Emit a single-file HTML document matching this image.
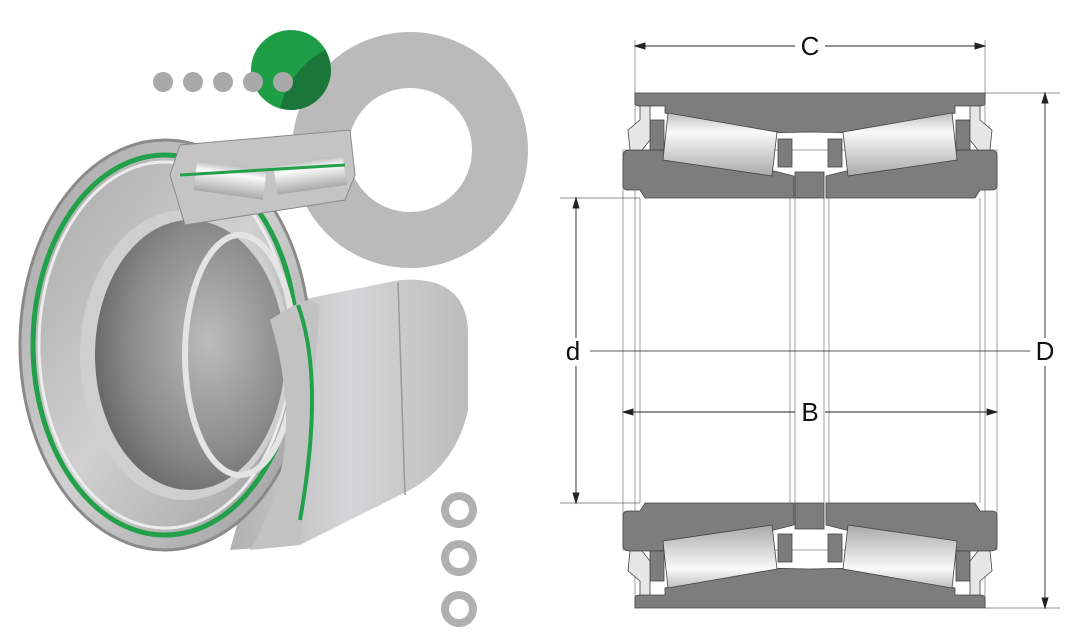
<!DOCTYPE html>
<html><head><meta charset="utf-8"><style>
html,body{margin:0;padding:0;background:#fff;width:1076px;height:636px;overflow:hidden}
svg{display:block}
text{font-family:"Liberation Sans",sans-serif}
</style></head><body>
<svg width="1076" height="636" viewBox="0 0 1076 636" xmlns="http://www.w3.org/2000/svg">
<defs>
<linearGradient id="roll" x1="0" y1="0" x2="0" y2="1">
<stop offset="0" stop-color="#bdbdbd"/><stop offset="0.3" stop-color="#fafafa"/><stop offset="1" stop-color="#a9a9a9"/></linearGradient>
<linearGradient id="body" x1="0" y1="0" x2="1" y2="0">
<stop offset="0" stop-color="#b0b0b0"/><stop offset="0.5" stop-color="#d6d6d8"/><stop offset="1" stop-color="#bcbcbc"/></linearGradient>
<radialGradient id="bore" cx="0.6" cy="0.45" r="0.7">
<stop offset="0" stop-color="#bcbcbc"/><stop offset="0.6" stop-color="#8a8a8a"/><stop offset="1" stop-color="#5a5a5a"/></radialGradient>
<linearGradient id="face" x1="0" y1="0" x2="1" y2="1">
<stop offset="0" stop-color="#a4a4a4"/><stop offset="0.5" stop-color="#d0d0d0"/><stop offset="1" stop-color="#9a9a9a"/></linearGradient>
</defs>

<circle cx="410" cy="150" r="90" fill="none" stroke="#bababa" stroke-width="56"/>
<circle cx="291" cy="70" r="40" fill="#1f9e48"/>
<path d="M331,70 A40,40 0 0 1 291,110 A40,40 0 0 1 280,108 A90,90 0 0 1 325,50 A40,40 0 0 1 331,70Z" fill="#1b6e38" opacity="0.85"/>
<g fill="#a9a9a9"><circle cx="163" cy="82" r="10"/><circle cx="193" cy="82" r="10"/><circle cx="223" cy="82" r="10"/><circle cx="253" cy="82" r="10"/><circle cx="283" cy="82" r="10"/></g>
<g fill="none" stroke="#b0b0b0" stroke-width="8"><circle cx="459" cy="510" r="14"/><circle cx="459" cy="558" r="14"/><circle cx="459" cy="609" r="14"/></g>

<!-- bearing body -->
<path d="M300,300 L400,280 Q465,275 468,330 L468,410 Q455,470 400,495 L300,545 L230,550 Z" fill="url(#body)"/>
<line x1="398" y1="282" x2="405" y2="495" stroke="#9a9a9a" stroke-width="1.5"/>
<path d="M180,145 L350,130 L355,180 L250,200 Z" fill="#bfbfbf"/>
<ellipse cx="165" cy="345" rx="145" ry="205" fill="url(#face)"/>
<ellipse cx="165" cy="345" rx="145" ry="205" fill="none" stroke="#8a8a8a" stroke-width="3"/>
<ellipse cx="165" cy="345" rx="132" ry="190" fill="none" stroke="#22a04a" stroke-width="5"/>
<ellipse cx="165" cy="345" rx="126" ry="183" fill="none" stroke="#ececec" stroke-width="3"/>
<ellipse cx="185" cy="355" rx="105" ry="145" fill="#cfcfcf"/>
<ellipse cx="190" cy="355" rx="95" ry="135" fill="url(#bore)"/>
<ellipse cx="240" cy="355" rx="55" ry="120" fill="none" stroke="#e4e4e4" stroke-width="6"/>
<path d="M270,320 Q300,300 310,300 L320,305 L300,545 L250,550 Q310,450 270,320Z" fill="#c2c2c2"/>
<path d="M298,305 Q325,380 300,520" fill="none" stroke="#22a04a" stroke-width="4"/>
<path d="M170,175 L180,145 L350,130 L355,175 L345,200 L185,225 Z" fill="#c4c4c4" stroke="#8a8a8a"/>
<rect x="195" y="165" width="70" height="30" fill="url(#roll)" transform="rotate(8 230 180)"/>
<rect x="275" y="160" width="70" height="30" fill="url(#roll)" transform="rotate(-8 310 175)"/>
<path d="M180,175 L345,165" stroke="#22a04a" stroke-width="3"/>

<!-- cross section -->
<g stroke="#333" stroke-width="1" fill="#fff">
<line x1="635" y1="40" x2="635" y2="608" stroke="#888" stroke-width="0.8"/>
<line x1="985" y1="40" x2="985" y2="608" stroke="#888" stroke-width="0.8"/>
<rect x="623" y="150" width="374" height="400" fill="none" stroke="#888" stroke-width="0.8"/>
<line x1="640" y1="198" x2="640" y2="503" stroke="#888" stroke-width="0.8"/>
<line x1="980" y1="198" x2="980" y2="503" stroke="#888" stroke-width="0.8"/>
<line x1="790" y1="198" x2="790" y2="503" stroke="#888" stroke-width="0.8"/>
<line x1="795" y1="198" x2="795" y2="503" stroke="#888" stroke-width="0.8"/>
<line x1="824" y1="198" x2="824" y2="503" stroke="#888" stroke-width="0.8"/>
<line x1="829" y1="198" x2="829" y2="503" stroke="#888" stroke-width="0.8"/>
</g>
<g id="half" fill="#7d7d7d" stroke="#444" stroke-width="0.8">
<path d="M635,93 L985,93 L985,103 Q985,106 980,106 L955,106 L955,113 L860,133 L810,132 L760,133 L665,113 L665,106 L640,106 Q635,106 635,103 Z"/>
<path d="M623,156 Q623,150 630,150 L660,150 L770,170 L794,176 L794,198 L645,198 L640,190 L628,190 Q623,190 623,185 Z"/>
<path d="M997,156 Q997,150 990,150 L960,150 L850,170 L826,176 L826,198 L975,198 L980,190 L992,190 Q997,190 997,185 Z"/>
<rect x="795" y="172" width="29" height="26"/>
<rect x="778" y="139" width="14" height="28"/>
<rect x="828" y="139" width="14" height="28"/>
<rect x="650" y="120" width="14" height="30"/>
<rect x="956" y="120" width="14" height="30"/>
<path d="M668,113 L777,132 L772,176 L663,160 Z" fill="url(#roll)"/>
<path d="M952,113 L843,132 L848,176 L957,160 Z" fill="url(#roll)"/>
<path d="M640,106 L650,106 L650,140 L642,150 L630,150 L628,130 L640,120 Z" fill="#e6e6e6"/>
<path d="M980,106 L970,106 L970,140 L978,150 L990,150 L992,130 L980,120 Z" fill="#e6e6e6"/>
</g>
<use href="#half" transform="translate(0,701) scale(1,-1)"/>

<g stroke="#222" stroke-width="0.9" fill="#222">
<line x1="635" y1="46" x2="795" y2="46"/><line x1="825" y1="46" x2="985" y2="46"/>
<path d="M635,46 l10,-3 v6z M985,46 l-10,-3 v6z"/>
<line x1="623" y1="412" x2="795" y2="412"/><line x1="825" y1="412" x2="997" y2="412"/>
<path d="M623,412 l10,-3 v6z M997,412 l-10,-3 v6z"/>
<line x1="576" y1="198" x2="576" y2="338"/><line x1="576" y1="366" x2="576" y2="503"/>
<path d="M576,198 l-3,10 h6z M576,503 l-3,-10 h6z"/>
<line x1="1045" y1="93" x2="1045" y2="338"/><line x1="1045" y1="366" x2="1045" y2="608"/>
<path d="M1045,93 l-3,10 h6z M1045,608 l-3,-10 h6z"/>
<line x1="590" y1="351" x2="1030" y2="351" stroke-width="0.7"/>
<line x1="985" y1="93" x2="1060" y2="93" stroke-width="0.6"/>
<line x1="985" y1="608" x2="1060" y2="608" stroke-width="0.6"/>
<line x1="560" y1="198" x2="640" y2="198" stroke-width="0.6"/>
<line x1="560" y1="503" x2="640" y2="503" stroke-width="0.6"/>
</g>
<g font-size="26" fill="#111" text-anchor="middle">
<text x="810" y="55">C</text>
<text x="810" y="421">B</text>
<text x="573" y="360">d</text>
<text x="1045" y="360">D</text>
</g>
</svg>
</body></html>
